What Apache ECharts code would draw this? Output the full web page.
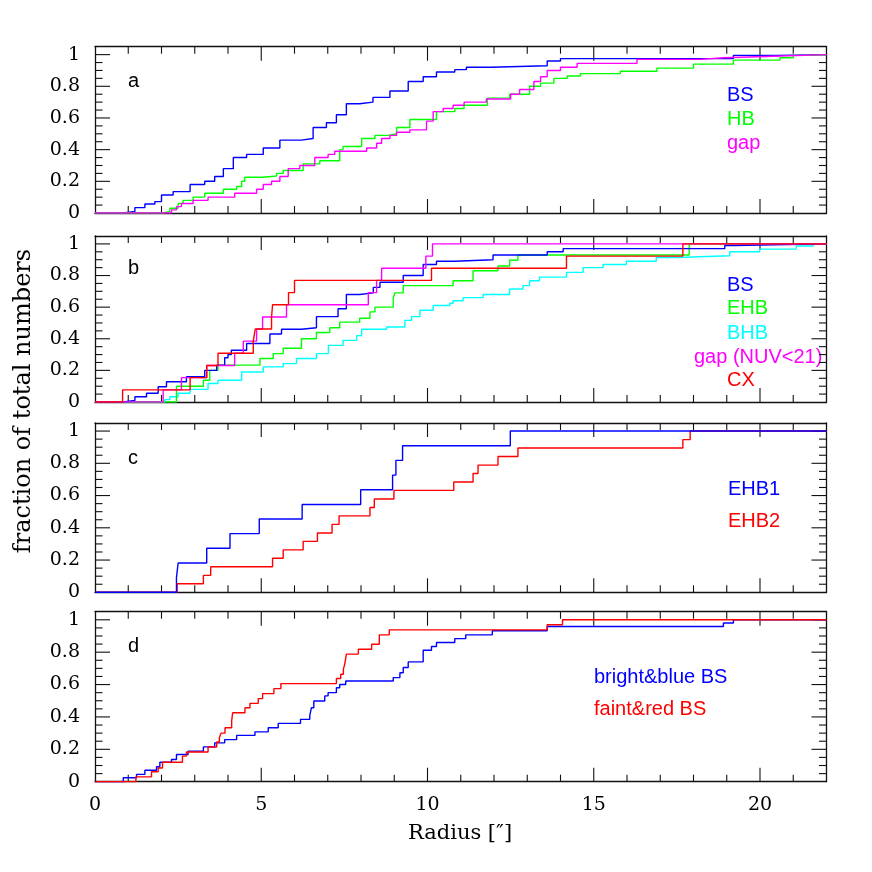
<!DOCTYPE html>
<html>
<head>
<meta charset="utf-8">
<script src="https://cdn.jsdelivr.net/npm/echarts@6/dist/echarts.min.js"></script>
<style>html,body{margin:0;padding:0;background:#fff}#c{width:872px;height:872px}</style>
</head>
<body>
<div id="c"></div>
<script>
// ---------- data (cumulative fractions vs radius) ----------
const xTickLabels = [0, 5, 10, 15, 20];
const yTickLabels = [0, 0.2, 0.4, 0.6, 0.8, 1];
const xTickValues = [1, 2, 3, 4, 5, 6, 7, 8, 9, 10, 11, 12, 13, 14, 15, 16, 17, 18, 19, 20, 21];
const yTickValues = [0.05, 0.1, 0.15, 0.2, 0.25, 0.3, 0.35, 0.4, 0.45, 0.5, 0.55, 0.6, 0.65, 0.7, 0.75, 0.8, 0.85, 0.9, 0.95, 1.0];

// panel a
const aBSx  = [0, 0.85, 1.2, 1.5, 1.8, 2.0, 2.35, 2.86, 3.3, 3.6, 3.86, 4.16, 4.56, 5.06, 5.56, 6.2, 6.56, 6.96, 7.26, 7.56, 7.96, 8.36, 8.87, 9.42, 9.87, 10.27, 10.82, 11.17, 11.9, 13.6, 14.0, 19.2, 20.5];
const aBSy  = [0, 0.01, 0.034, 0.057, 0.072, 0.114, 0.135, 0.18, 0.2, 0.23, 0.28, 0.35, 0.37, 0.41, 0.46, 0.47, 0.54, 0.57, 0.62, 0.69, 0.70, 0.73, 0.77, 0.83, 0.86, 0.89, 0.905, 0.92, 0.93, 0.96, 0.975, 0.995, 1.0];
const aHBx  = [0, 2.05, 2.25, 2.5, 2.65, 2.95, 3.3, 3.86, 4.26, 4.41, 4.5, 5.06, 5.46, 5.66, 6.26, 6.76, 7.36, 7.46, 8.02, 8.42, 8.82, 9.07, 9.47, 10.27, 10.82, 11.1, 11.8, 12.47, 13.07, 13.4, 13.8, 14.2, 14.6, 15.8, 16.9, 18.0, 19.2, 20.6, 21.0, 21.5];
const aHBy  = [0, 0.01, 0.03, 0.06, 0.08, 0.10, 0.125, 0.15, 0.167, 0.2, 0.226, 0.234, 0.25, 0.268, 0.31, 0.33, 0.40, 0.42, 0.47, 0.49, 0.5, 0.54, 0.59, 0.64, 0.66, 0.68, 0.725, 0.75, 0.80, 0.82, 0.85, 0.865, 0.88, 0.895, 0.915, 0.94, 0.965, 0.98, 0.995, 1.0];
const aGapx = [0, 2.3, 2.45, 2.6, 2.95, 3.4, 4.2, 4.86, 5.06, 5.31, 5.56, 5.81, 6.16, 6.61, 7.01, 7.21, 8.17, 8.47, 8.62, 8.87, 9.07, 9.47, 9.97, 10.17, 10.47, 10.77, 11.1, 11.77, 12.5, 12.77, 13.2, 13.4, 13.6, 14.0, 14.5, 16.3, 18.2, 18.9, 20.4];
const aGapy = [0, 0.02, 0.04, 0.06, 0.08, 0.10, 0.125, 0.15, 0.18, 0.2, 0.23, 0.28, 0.30, 0.35, 0.37, 0.39, 0.41, 0.44, 0.47, 0.49, 0.51, 0.525, 0.58, 0.64, 0.66, 0.68, 0.70, 0.72, 0.75, 0.78, 0.83, 0.86, 0.90, 0.92, 0.945, 0.97, 0.98, 0.99, 1.0];

// panel b
const bBSx  = [0, 0.85, 1.2, 1.55, 1.9, 2.15, 2.75, 3.3, 3.66, 3.9, 4.0, 4.1, 4.56, 5.26, 5.61, 6.21, 6.66, 7.31, 7.56, 7.96, 8.37, 8.57, 9.27, 9.87, 10.27, 10.82, 11.97, 13.6, 14.08, 18.94, 19.24];
const bBSy  = [0, 0.01, 0.033, 0.055, 0.096, 0.128, 0.16, 0.2, 0.233, 0.28, 0.30, 0.327, 0.37, 0.43, 0.46, 0.47, 0.54, 0.59, 0.68, 0.69, 0.725, 0.757, 0.8, 0.87, 0.89, 0.90, 0.93, 0.95, 0.97, 0.99, 1.0];
const bEHBx = [0, 2.45, 3.26, 3.45, 3.7, 4.96, 5.36, 5.66, 6.21, 6.66, 7.06, 7.36, 7.96, 8.27, 8.42, 8.97, 9.02, 9.27, 10.77, 11.37, 12.12, 12.47, 12.72, 17.87];
const bEHBy = [0, 0.10, 0.138, 0.2, 0.233, 0.275, 0.306, 0.34, 0.40, 0.44, 0.47, 0.505, 0.53, 0.57, 0.60, 0.66, 0.69, 0.736, 0.767, 0.83, 0.86, 0.897, 0.93, 1.0];
const bBHBx = [0, 2.1, 2.25, 2.5, 2.86, 3.4, 3.7, 4.41, 5.06, 5.66, 6.06, 6.66, 7.02, 7.46, 7.87, 8.02, 8.77, 9.32, 9.52, 9.77, 10.17, 10.67, 10.77, 11.07, 11.67, 12.47, 12.87, 13.07, 13.37, 14.18, 14.68, 15.28, 15.98, 16.88, 17.5, 19.09, 19.99, 21.09, 21.6];
const bBHBy = [0, 0.015, 0.033, 0.055, 0.08, 0.117, 0.138, 0.19, 0.222, 0.243, 0.275, 0.306, 0.358, 0.39, 0.42, 0.46, 0.474, 0.516, 0.54, 0.58, 0.61, 0.625, 0.64, 0.66, 0.68, 0.715, 0.736, 0.767, 0.79, 0.82, 0.85, 0.87, 0.89, 0.914, 0.925, 0.95, 0.967, 0.987, 1.0];
const bGapx = [0, 2.05, 2.6, 3.36, 4.2, 4.46, 4.86, 5.04, 5.76, 8.22, 8.47, 8.62, 9.95, 10.15];
const bGapy = [0, 0.077, 0.154, 0.231, 0.308, 0.385, 0.462, 0.538, 0.615, 0.692, 0.769, 0.846, 0.923, 1.0];
const bCXx  = [0, 0.83, 2.86, 3.36, 3.7, 4.76, 4.82, 5.31, 5.34, 5.82, 6.0, 10.12, 14.18, 17.68];
const bCXy  = [0, 0.077, 0.154, 0.231, 0.308, 0.385, 0.462, 0.538, 0.615, 0.692, 0.769, 0.846, 0.923, 1.0];

// panel c
const cEHB1x = [0, 2.45, 2.5, 3.36, 4.06, 4.94, 6.23, 7.99, 8.95, 9.05, 9.25, 12.49];
const cEHB1y = [0, 0.091, 0.182, 0.273, 0.364, 0.455, 0.545, 0.636, 0.727, 0.818, 0.909, 1.0];
const cEHB2x = [0, 2.47, 3.26, 3.48, 5.34, 5.66, 6.26, 6.69, 7.13, 7.34, 8.27, 8.4, 8.99, 10.79, 11.37, 11.52, 12.12, 12.72, 17.68, 17.9];
const cEHB2y = [0, 0.053, 0.105, 0.158, 0.211, 0.263, 0.316, 0.368, 0.421, 0.474, 0.526, 0.579, 0.632, 0.684, 0.737, 0.789, 0.842, 0.895, 0.947, 1.0];

// panel d
const dBBx = [0, 0.85, 1.25, 1.5, 1.85, 1.95, 2.3, 2.45, 2.8, 3.26, 3.6, 3.9, 4.26, 4.81, 5.21, 5.51, 6.18, 6.46, 6.51, 6.58, 6.91, 7.01, 7.26, 7.36, 7.54, 8.97, 9.17, 9.27, 9.42, 9.87, 10.12, 10.27, 10.82, 11.15, 11.95, 13.6, 18.9, 19.2];
const dBBy = [0, 0.024, 0.045, 0.071, 0.092, 0.12, 0.137, 0.168, 0.189, 0.215, 0.24, 0.26, 0.286, 0.308, 0.333, 0.36, 0.385, 0.41, 0.457, 0.498, 0.53, 0.55, 0.58, 0.6, 0.622, 0.643, 0.673, 0.705, 0.74, 0.812, 0.835, 0.86, 0.884, 0.907, 0.932, 0.959, 0.98, 1.0];
const dFRx = [0, 1.23, 1.7, 1.9, 2.03, 2.63, 2.75, 3.4, 3.66, 3.74, 3.79, 3.91, 4.11, 4.14, 4.51, 4.66, 4.91, 5.04, 5.38, 5.59, 7.26, 7.39, 7.47, 7.51, 7.56, 7.92, 8.32, 8.55, 8.85, 13.6, 14.06];
const dFRy = [0, 0.03, 0.061, 0.085, 0.12, 0.158, 0.183, 0.214, 0.245, 0.271, 0.3, 0.333, 0.375, 0.426, 0.457, 0.484, 0.513, 0.544, 0.575, 0.606, 0.637, 0.664, 0.695, 0.725, 0.788, 0.818, 0.849, 0.907, 0.938, 0.969, 1.0];

const xMax = 22, yMax = 1.05;
const xShift = 100, yShift = 1;   // mirror (top/right) frame axes

// ---------- layout ----------
const panels = [
  {top: 46.7, height: 166.3, letter: 'a', letterY: 81,
   series: [[aBSx, aBSy, '#0000ff'], [aHBx, aHBy, '#00ff00'], [aGapx, aGapy, '#ff00ff']],
   labels: [['BS', '#0000ff', 727, 95.5], ['HB', '#00ff00', 727, 119.5], ['gap', '#ff00ff', 727, 143]]},
  {top: 236, height: 166, letter: 'b', letterY: 268,
   series: [[bBHBx, bBHBy, '#00ffff'], [bEHBx, bEHBy, '#00ff00'], [bBSx, bBSy, '#0000ff'], [bGapx, bGapy, '#ff00ff'], [bCXx, bCXy, '#ff0000']],
   labels: [['BS', '#0000ff', 727, 285], ['EHB', '#00ff00', 727, 308.5], ['BHB', '#00ffff', 727, 333], ['gap (NUV<21)', '#ff00ff', 694, 357.5], ['CX', '#ff0000', 727, 380]]},
  {top: 423, height: 169.3, letter: 'c', letterY: 458,
   series: [[cEHB2x, cEHB2y, '#ff0000'], [cEHB1x, cEHB1y, '#0000ff']],
   labels: [['EHB1', '#0000ff', 728, 489.7], ['EHB2', '#ff0000', 728, 521.7]]},
  {top: 611.7, height: 170, letter: 'd', letterY: 646,
   series: [[dBBx, dBBy, '#0000ff'], [dFRx, dFRy, '#ff0000']],
   labels: [['bright&blue BS', '#0000ff', 594, 677.5], ['faint&red BS', '#ff0000', 594, 709.7]]}
];

const serif = '"DejaVu Serif", serif';
const sans = '"Liberation Sans", Arial, sans-serif';
const frame = {show: true, lineStyle: {color: '#111', width: 1.3}};
const tickStyle = {stroke: '#111', lineWidth: 1.1};
const isMajorX = v => Math.abs(v % 5) < 1e-6;
const isMajorY = v => Math.abs(v / 0.2 - Math.round(v / 0.2)) < 1e-6;

function seg(x1, y1, x2, y2) {
  return {type: 'line', shape: {x1: x1, y1: y1, x2: x2, y2: y2}, style: tickStyle};
}

const grid = [], xAxis = [], yAxis = [], series = [], graphic = [];
panels.forEach((p, i) => {
  grid.push({left: 95, width: 731.5, top: p.top, height: p.height, containLabel: false});
  const isLast = i === panels.length - 1;
  const base = {type: 'value', gridIndex: i, axisLine: frame, splitLine: {show: false},
    axisTick: {show: false}, minorTick: {show: false}};
  xAxis.push(Object.assign({}, base, {
    position: 'bottom', min: 0, max: xMax, interval: 5,
    axisLabel: {show: isLast, margin: 14, color: '#000', fontFamily: serif, fontSize: 19,
      formatter: v => (xTickLabels.indexOf(v) >= 0 ? String(v) : '')}
  }));
  xAxis.push(Object.assign({}, base, {position: 'top', min: xShift, max: xShift + xMax, interval: 5, axisLabel: {show: false}}));
  yAxis.push(Object.assign({}, base, {
    position: 'left', min: 0, max: yMax, interval: 0.2,
    axisLabel: {show: true, margin: 15, color: '#000', fontFamily: serif, fontSize: 19,
      formatter: v => {
        const m = yTickLabels.find(t => Math.abs(t - v) < 1e-6);
        return m === undefined ? '' : String(m);
      }}
  }));
  yAxis.push(Object.assign({}, base, {position: 'right', min: yShift, max: yShift + yMax, interval: 0.2, axisLabel: {show: false}}));

  // step curves
  p.series.forEach(([xs, ys, color]) => {
    const data = xs.map((x, k) => [x, ys[k]]);
    data.push([xMax, ys[ys.length - 1]]);
    series.push({
      type: 'line', xAxisIndex: 2 * i, yAxisIndex: 2 * i, step: 'end',
      data: data, showSymbol: false, symbol: 'none', silent: true, animation: false,
      lineStyle: {color: color, width: 1.4}, clip: true
    });
  });

  // inward tick marks on all four sides, placed through the panel's scales
  series.push({
    type: 'custom', xAxisIndex: 2 * i, yAxisIndex: 2 * i, silent: true, animation: false, clip: false,
    data: xTickValues.map(v => [v, 0]),
    renderItem: (params, api) => {
      const v = api.value(0);
      const len = isMajorX(v) ? 14 : 7;
      const b = api.coord([v, 0]), t = api.coord([v, yMax]);
      return {type: 'group', children: [seg(b[0], b[1], b[0], b[1] - len), seg(t[0], t[1], t[0], t[1] + len)]};
    }
  });
  series.push({
    type: 'custom', xAxisIndex: 2 * i, yAxisIndex: 2 * i, silent: true, animation: false, clip: false,
    data: yTickValues.map(v => [0, v]),
    renderItem: (params, api) => {
      const v = api.value(1);
      const len = isMajorY(v) ? 15 : 7.5;
      const l = api.coord([0, v]), r = api.coord([xMax, v]);
      return {type: 'group', children: [seg(l[0], l[1], l[0] + len, l[1]), seg(r[0], r[1], r[0] - len, r[1])]};
    }
  });

  graphic.push({type: 'text', x: 128, y: p.letterY,
    style: {text: p.letter, fill: '#000', font: '20px ' + sans, align: 'left', verticalAlign: 'middle'}});
  p.labels.forEach(([t, c, x, y]) => {
    graphic.push({type: 'text', x: x, y: y,
      style: {text: t, fill: c, font: '20px ' + sans, align: 'left', verticalAlign: 'middle'}});
  });
});

graphic.push({type: 'text', x: 460, y: 834,
  style: {text: 'Radius [\u2033]', fill: '#000', font: '21px ' + serif, align: 'center', verticalAlign: 'middle'}});
graphic.push({type: 'text', x: 24, y: 401, rotation: Math.PI / 2,
  style: {text: 'fraction of total numbers', fill: '#000', font: '24px ' + serif, align: 'center', verticalAlign: 'middle'}});

const chart = echarts.init(document.getElementById('c'), null, {renderer: 'canvas'});
chart.setOption({
  backgroundColor: '#ffffff',
  animation: false,
  grid: grid, xAxis: xAxis, yAxis: yAxis, series: series, graphic: graphic
});
</script>
</body>
</html>
